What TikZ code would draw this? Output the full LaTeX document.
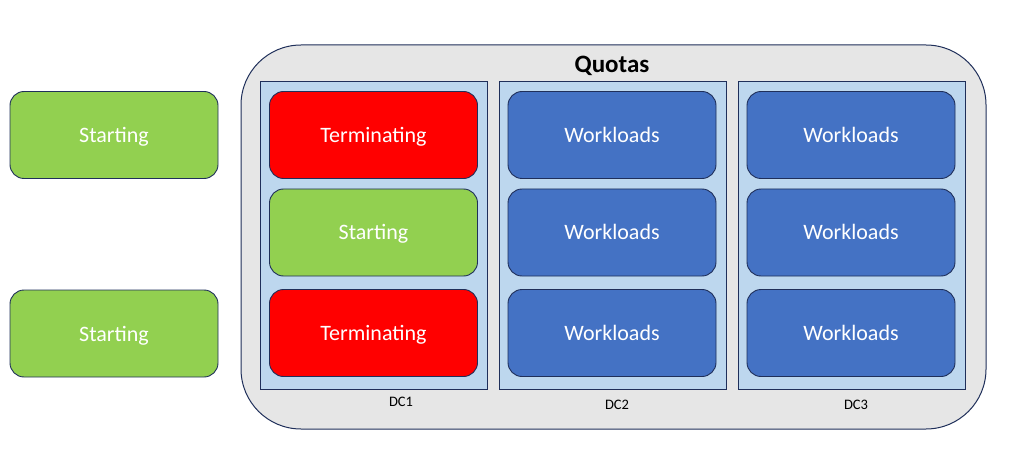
\documentclass[tikz,border=0pt]{standalone}
\usepackage{fontspec}
\setmainfont{Carlito}
\definecolor{cgreen}{HTML}{92D050}
\definecolor{cred}{HTML}{FF0000}
\definecolor{cblue}{HTML}{4472C4}
\definecolor{cpanel}{HTML}{BDD7EE}
\definecolor{couter}{HTML}{E6E6E6}
\definecolor{cedge}{HTML}{1F2F5A}
\begin{document}
\begin{tikzpicture}[x=1pt,y=-1pt,
  box/.style={draw=cedge, line width=0.9pt, rounded corners=14pt, minimum width=208pt, minimum height=87pt, inner sep=0pt, text height=15pt, text depth=0pt, text=white, font=\fontsize{22}{26}\selectfont},
  startbox/.style={box, fill=cgreen},
  termbox/.style={box, fill=cred},
  workbox/.style={box, fill=cblue},
  panel/.style={draw=cedge, line width=0.9pt, fill=cpanel, minimum width=227pt, minimum height=308pt, inner sep=0pt},
  dclabel/.style={font=\fontsize{14.5}{17}\selectfont, text=black}]
\useasboundingbox (0,0) rectangle (1024,470);
\node[draw=cedge, line width=1pt, fill=couter, rounded corners=60pt, minimum width=745pt, minimum height=384pt, inner sep=0pt] (outer) at (613.5,237) {};
\node[font=\fontsize{25}{30}\selectfont\bfseries] (quotas) at (612,65.5) {Quotas};
\node[panel] (dc1) at (373.5,235) {};
\node[panel] (dc2) at (612.5,235) {};
\node[panel] (dc3) at (851.5,235) {};
\node[dclabel] (l1) at (401,402) {DC1};
\node[dclabel] (l2) at (617,405) {DC2};
\node[dclabel] (l3) at (856,405) {DC3};
\node[startbox] (s1) at (114,135) {Starting};
\node[startbox] (s2) at (114,333.5) {Starting};
\node[termbox] (t1) at (373.5,135) {Terminating};
\node[startbox] (t2) at (373.5,232.5) {Starting};
\node[termbox] (t3) at (373.5,333) {Terminating};
\node[workbox] (a1) at (612,135) {Workloads};
\node[workbox] (a2) at (612,232.5) {Workloads};
\node[workbox] (a3) at (612,333) {Workloads};
\node[workbox] (b1) at (851,135) {Workloads};
\node[workbox] (b2) at (851,232.5) {Workloads};
\node[workbox] (b3) at (851,333) {Workloads};
\end{tikzpicture}
\end{document}
